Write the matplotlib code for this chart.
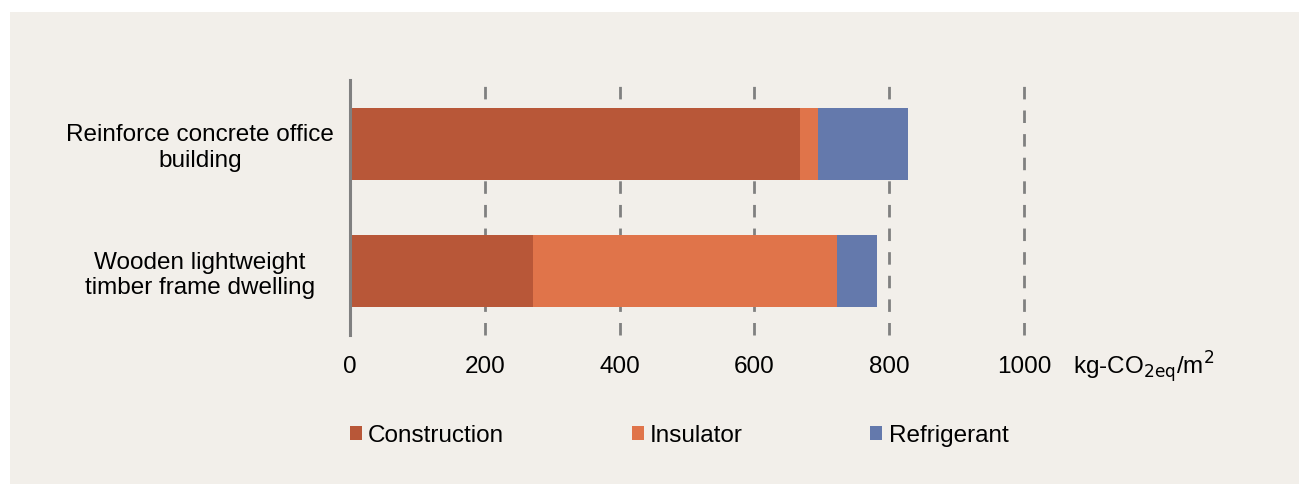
import matplotlib.pyplot as plt
from matplotlib.patches import Rectangle

plt.rcParams['font.family'] = ['Liberation Sans', 'DejaVu Sans']

buildings = ["Reinforce concrete office\nbuilding", "Wooden lightweight\ntimber frame dwelling"]
construction = [667, 271]
insulator = [27, 451]
refrigerant = [134, 60]
ticks = [0, 200, 400, 600, 800, 1000]

bg = "#F2EFEA"
colors = ["#B85738", "#E0744A", "#6479AC"]

fig = plt.figure(figsize=(12.99, 4.84), dpi=100)
fig.patch.set_facecolor("white")
fig.add_artist(Rectangle((10 / 1299, 0), 1, 1 - 12 / 484, transform=fig.transFigure,
                         facecolor=bg, edgecolor="none", zorder=-10))

ax = fig.add_axes([350 / 1299, 1 - 335 / 484, 674 / 1299, 255 / 484])
ax.patch.set_alpha(0)

ypos = [1, 0]
left2 = [c + i for c, i in zip(construction, insulator)]
ax.barh(ypos, construction, height=0.567, color=colors[0], label="Construction", zorder=3)
ax.barh(ypos, insulator, left=construction, height=0.567, color=colors[1], label="Insulator", zorder=3)
ax.barh(ypos, refrigerant, left=left2, height=0.567, color=colors[2], label="Refrigerant", zorder=3)

ax.set_xlim(0, 1000)
ax.set_ylim(-0.5, 1.5)
ax.set_xticks(ticks)
ax.set_xticklabels([str(t) for t in ticks], fontsize=17.5)
for t in ticks[1:]:
    ax.axvline(t, color="#808080", lw=2, ls=(0, (4.5, 4)), zorder=1, clip_on=False)
ax.axvline(0, color="#808080", lw=2.2, zorder=4, clip_on=False)

ax.set_yticks(ypos)
ax.set_yticklabels(buildings, fontsize=17.5, ha="center", multialignment="center")
ax.tick_params(axis="y", length=0, pad=150 * 72 / 100)
ax.tick_params(axis="x", length=0, pad=15)
for s in ax.spines.values():
    s.set_visible(False)

ax.annotate(r"kg-CO$_{\mathrm{2eq}}$/m$^{\mathrm{2}}$", xy=(1, 0), xycoords="axes fraction",
            xytext=(49 * 0.72, -32 * 0.72), textcoords="offset points",
            ha="left", va="center", fontsize=17.5)

fig.legend(loc="center", bbox_to_anchor=(679 / 1299, 1 - 436 / 484), ncol=3, frameon=False,
           fontsize=17.5, handlelength=0.5, handleheight=0.5, handletextpad=0.25,
           columnspacing=5.25)

fig.savefig("out.png", dpi=100, facecolor=fig.get_facecolor())
